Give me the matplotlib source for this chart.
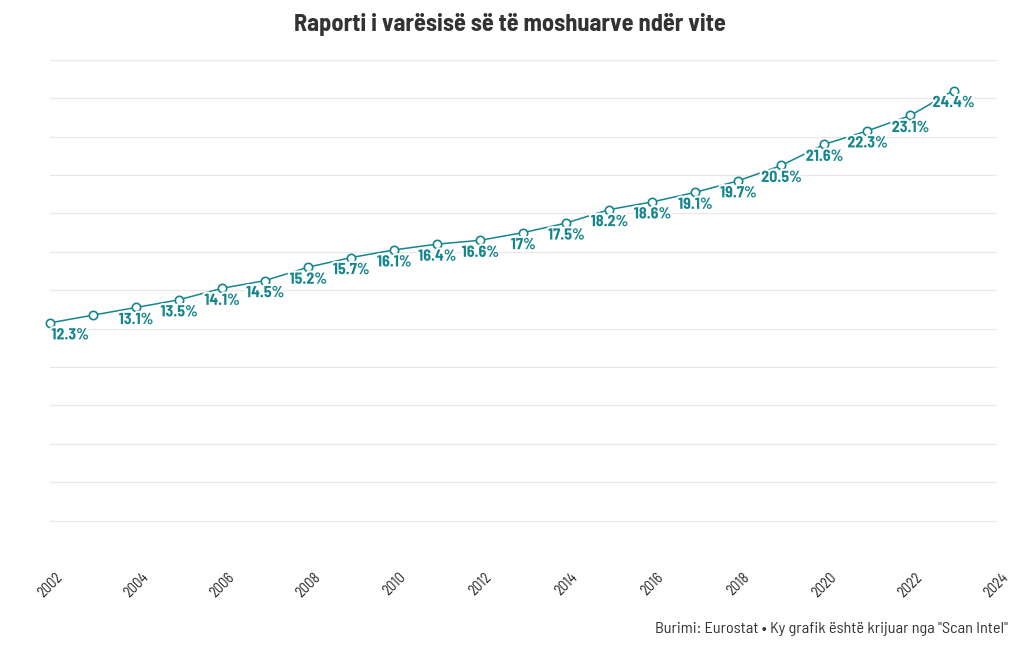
import matplotlib
matplotlib.use("Agg")
import matplotlib.pyplot as plt
import matplotlib.patheffects as pe

years = list(range(2002, 2024))
values = [12.3, 12.7, 13.1, 13.5, 14.1, 14.5, 15.2, 15.7, 16.1, 16.4, 16.6,
          17.0, 17.5, 18.2, 18.6, 19.1, 19.7, 20.5, 21.6, 22.3, 23.1, 24.4]
# the 2003 label is not shown in the original
hidden_labels = [2003]

title = "Raporti i varësisë së të moshuarve ndër vite"
source = 'Burimi: Eurostat • Ky grafik është krijuar nga "Scan Intel"'

plt.rcParams['font.family'] = ['Barlow Semi Condensed', 'Roboto', 'DejaVu Sans']

teal = "#16868d"

fig = plt.figure(figsize=(10.2, 6.5), dpi=100)
ax = fig.add_axes([0.049, 0.14, 0.928, 0.768])

ax.plot(years, values, color=teal, lw=1.1, marker='o', ms=6,
        mfc='white', mec=teal, mew=1.2, zorder=3, clip_on=False)

for yr, v in zip(years, values):
    if yr in hidden_labels:
        continue
    lab = f"{v:g}%"
    ha = 'left' if yr == years[0] else 'center'
    ax.annotate(lab, (yr, v), xytext=(1 if ha == 'left' else 0, -4),
                textcoords='offset points', ha=ha, va='top', color=teal,
                fontsize=11.5, fontweight='bold',
                path_effects=[pe.withStroke(linewidth=3, foreground='white')],
                zorder=4)

ax.set_xlim(2002, 2024)
ax.set_ylim(0, 26)
ax.set_xticks(range(2002, 2025, 2))
ax.set_yticks(range(2, 27, 2))
ax.set_yticklabels([])
ax.tick_params(axis='y', length=0)
ax.tick_params(axis='x', length=0, pad=8, labelsize=10.5, labelcolor='#222222')
for t in ax.get_xticklabels():
    t.set_rotation(45)
ax.grid(axis='y', color='#e8e8e8', lw=0.9)
ax.set_axisbelow(True)
for s in ax.spines.values():
    s.set_visible(False)

fig.text(0.5, 0.962, title, ha='center', va='center', fontsize=17.5,
         fontweight='bold', color='#333333')
fig.text(0.988, 0.032, source, ha='right', va='center', fontsize=11.7,
         color='#333333')

fig.savefig("out.png", dpi=100)
